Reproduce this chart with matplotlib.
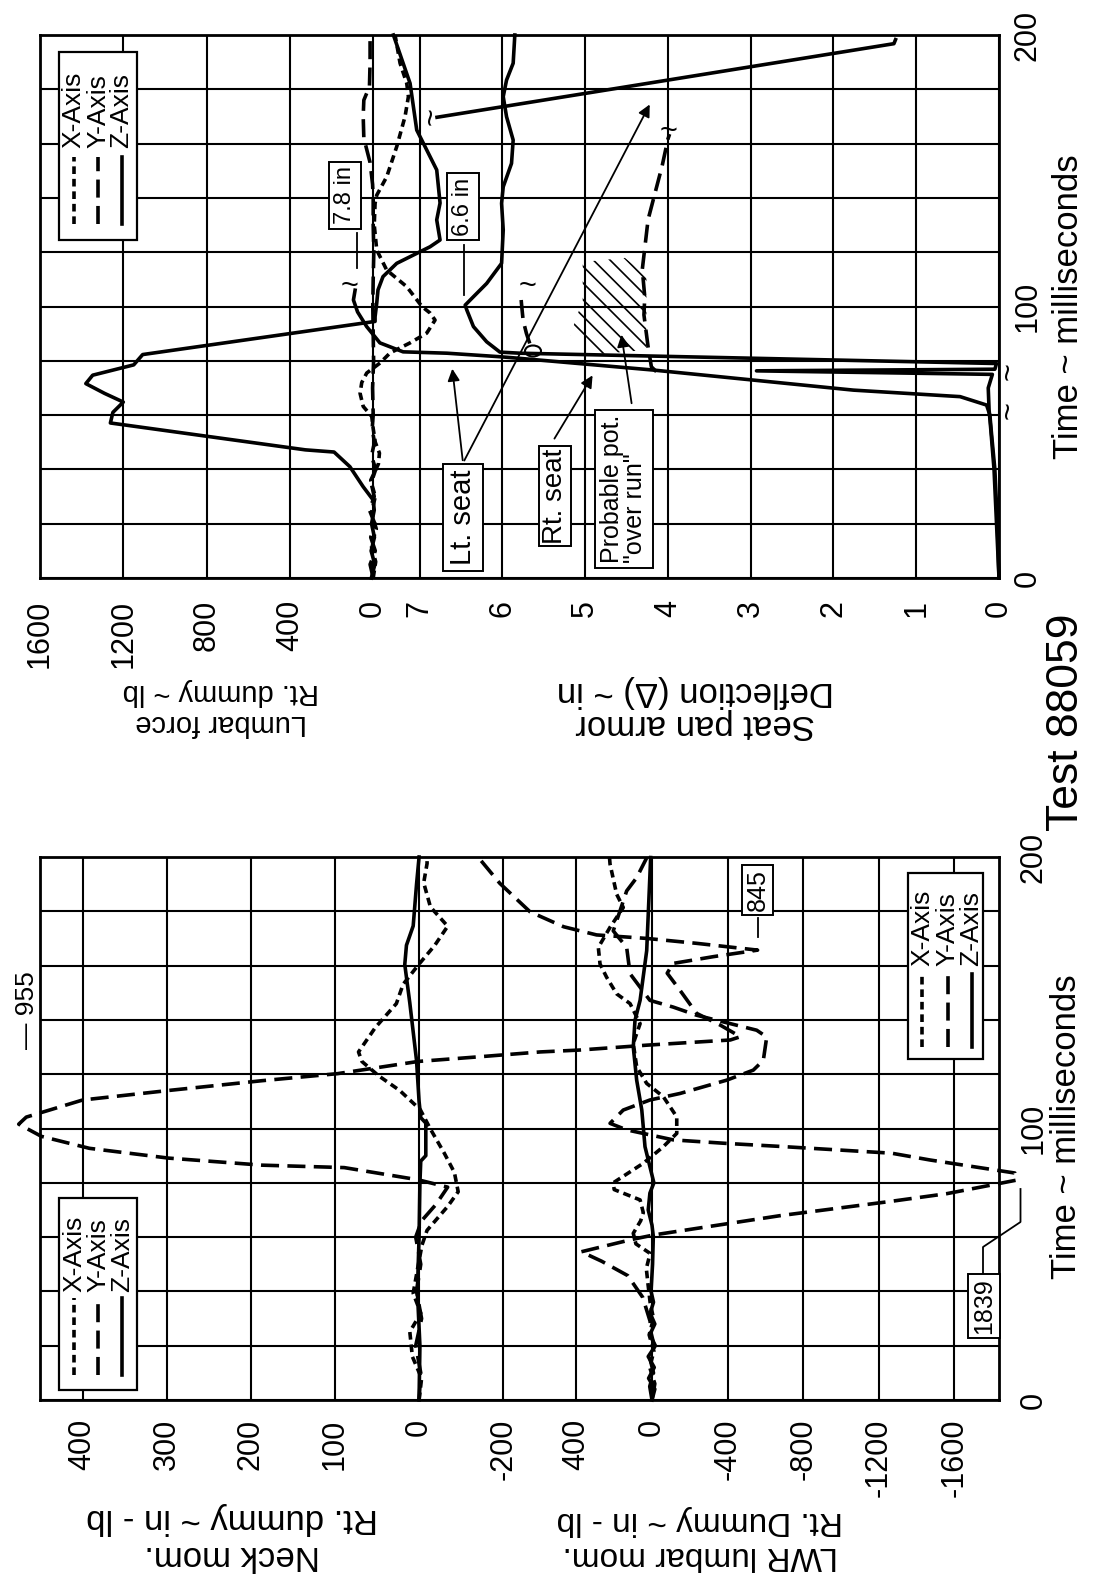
import numpy as np
import matplotlib
matplotlib.use('Agg')
import matplotlib.pyplot as plt
from matplotlib.patches import Rectangle, Polygon, Ellipse, FancyArrowPatch
from matplotlib.lines import Line2D

#==============================================================================
# data (time in ms)
#==============================================================================

# upper chart: lumbar force, Rt. dummy (lb)
lumbar_x_t = [0, 6, 12, 18, 24, 30, 36, 42, 46, 50, 55, 59.5, 63.2, 68, 72, 75.5,
              79.2, 82.9, 86.6, 90.2, 95, 97.6, 100, 107.3, 113.4, 120.8, 130, 138,
              141, 147.8, 158.9, 170, 177.3, 182.2, 189.6, 200]
lumbar_x = [0, -12, 10, -15, 8, -10, 12, -25, -30, -10, 0, 7, 48, 63, 55, 31,
            -33, -81, -177, -257, -297, -273, -234, -161, -65, -17, -5, -9,
            -17, -65, -113, -153, -169, -161, -129, -105]

lumbar_y_t = [0, 5, 10, 15, 20, 25, 30, 35, 40, 45, 50, 55, 60, 70, 80, 90, 100,
              110, 120, 130, 140, 145, 153, 162, 170, 176, 181, 190, 200]
lumbar_y = [0, 15, -10, 12, -8, 18, -5, 10, -12, 8, -6, 5, 0, 3, -2, 0, 2,
            0, -3, 0, 0, 3, 15, 45, 48, 45, 18, 15, 15]

lumbar_z_t = [0, 5, 10, 15, 20, 25, 28.7, 33.6, 41, 46.4, 47.2, 57.1, 61, 64.8,
              68, 71.6, 74.7, 78.5, 82.3, 94.5, 96.2, 101.3, 106.1, 111, 115.9,
              122, 124.5, 131.9, 138.1, 150.3, 155.2, 165, 182.2, 200]
lumbar_z = [9, -8, 10, -6, 8, -5, 0, 48, 112, 188, 326, 1262, 1250, 1200,
            1290, 1380, 1347, 1150, 1107, -9, -9, -17, -23, -47, -113,
            -273, -321, -305, -321, -305, -273, -209, -177, -97]

# upper chart: seat pan armor deflection (in)
lt_seat_t = [0, 20, 40, 53, 60, 63.7, 66.8, 69.2, 72.9, 76.6, 80.9, 81.5, 82.8,
             83.3, 86.6, 92.6, 98, 102.4, 106, np.nan, 169.7, 196.8, 198.3]
lt_seat = [0, 0.02, 0.05, 0.09, 0.11, 0.15, 0.47, 1.76, 2.97, 4.18, 5.79, 6.03, 6.67,
           7.2, 7.48, 7.64, 7.75, 7.8, 7.78, np.nan, 6.79, 1.27, 1.25]

rt_seat_t = [0, 20, 40, 55, 62, 70, 75.0, 76.3, 76.9, 79.0, 82.8, 83.2, 87, 92.6,
             98.7, 100.5, 103.6, 108.5, 115.9, 128.2, 138, 144.1, 152.7, 161.3,
             169.9, 177.3, 183.4, 189.6, 200]
rt_seat = [0, 0.03, 0.06, 0.1, 0.12, 0.13, 0.08, 2.93, 0.05, 0.03, 5.79, 6.03, 6.19, 6.35,
           6.43, 6.45, 6.35, 6.19, 6.01, 5.99, 6.01, 5.99, 5.89, 5.87,
           5.95, 5.99, 5.95, 5.87, 5.85]

pot_t = [76, 77.8, 85.2, 96.9, 103.6, 113.6, 132, 151.8, 161.7, 163.5, np.nan,
         86.4, 90.1, 95, 101.2, 105]
pot = [4.14, 4.20, 4.24, 4.29, 4.28, 4.31, 4.24, 4.07, 4.0, 3.98, np.nan,
       5.67, 5.71, 5.75, 5.77, 5.78]

# lower chart: neck moment, Rt. dummy (in-lb)
neck_x_t = [0, 8, 16, 25.1, 32, 39.3, 48, 57.1, 62.5, 71.3, 76.7, 83.8, 90.9, 99.8,
            106.9, 114, 119.4, 124.7, 128.2, 137.2, 146, 153.1, 160.2, 167.4,
            174.5, 181.6, 190.5, 197.6, 200]
neck_x = [0, -6, 8, 11, -4, 7, 2, -7, -19, -68, -93, -84, -60, -27,
          -3, 23, 48, 68, 72, 52, 27, 19, 1, -37,
          -68, -27, -11, -19, -19]

neck_y_t = [0, 10, 20, 30, 40, 50, 60, 66, 72, 78.4, 81.1, 85.6, 86.5, 89.1, 92.7,
            97.1, 101.6, 104.2, 110.5, 114, 117.6, 120.2, 124.7, 126.5, 128.2,
            128.9, 130.7, 132.6, 133.8, 138.1, 142.4, 151, 157.2, 160.8, 163.3,
            165.7, 168.2, 170, 171.3, 174.3, 179.8, 190.3, 198.9, 200]
neck_y = [0, -4, 4, -6, 3, -4, 4, -6, -40, -68, 1, 89, 187, 298, 392,
          449, 476, 467, 400, 298, 187, 97, 1, -150, -288,
          -382, -542, -740, -764, -716, -660, -620, -590, -604, -700,
          -805, -660, -542, -422, -344, -264, -192, -146, -140]

neck_z_t = [0, 20, 40, 60, 80, 88, 90, 102, 104, 110, 125, 146.2, 160.4, 167.5,
            174.6, 190, 200]
neck_z = [0, -2, 2, 0, -2, -4, -16, -16, -4, 0, 3, 11, 17, 15, 7, 3, 0]

# lower chart: LWR lumbar moment, Rt. dummy (in-lb)
lwr_x_t = [0, 6, 12, 18, 24, 30, 36, 42, 48.4, 54, 57.5, 61.4, 66, 69, 73.7, 77.5,
           80, 87.2, 93.3, 98.2, 104.3, 111.7, 116.6, 122.7, 131.3, 138.6, 146,
           149.6, 155.7, 160.6, 166.7, 174.1, 181.4, 186.3, 197.4, 200]
lwr_x = [0, -15, 12, -10, 15, -8, 10, 20, 30, 10, 85, 99, 60, 46, 63, 200,
         205, 46, -60, -131, -131, -60, 28, 81, 99, 63, 116,
         187, 240, 275, 284, 222, 152, 187, 222, 225]

lwr_y_t = [0, 5, 10, 15, 20, 25, 29, 37.8, 45.8, 51.1, 54.6, 59.1, 60.8, 67.9, 73.2,
           76, 81, 83.6, 88.4, 90.9, 93.4, 94.5, 95.8, 99.5, 101.9, 106.8, 110.5,
           112.9, 117.8, 121.5, 125.1, 133.7, 136.2, 141.7, 144.7, 147.2, 157,
           166.7, 172.8, 180, 187.5, 192.4, 199.7]
lwr_y = [0, 12, -8, 10, -12, 6, 10, 49, 128, 266, 374, 108, -10, -678, -1268,
         -1560, -1930, -1920, -1471, -1268, -678, -395, -113, 134, 222, 152, 11,
         -148, -395, -536, -589, -607, -554, -237, -113, 11, 116,
         134, 205, 170, 134, 81, 28]

lwr_z_t = [0, 4, 8, 12, 16, 20, 24, 28, 32, 36, 40, 50, 60.3, 64.4, 70, 76.2, 80,
           93.3, 106.8, 117.8, 130, 139.8, 147.2, 165.5, 199.8]
lwr_z = [0, -15, 18, -12, 20, -18, 12, -15, 10, -8, 5, -3, -7, 0, 20, 11, -10,
         37, 54, 81, 99, 90, 63, 28, 7]

force_ticks = [1600, 1200, 800, 400, 0]
defl_ticks = [7, 6, 5, 4, 3, 2, 1, 0]
neck_ticks = [400, 300, 200, 100, 0, -200]
lwr_ticks = [400, 0, -400, -800, -1200, -1600]
time_ticks = list(range(0, 201, 20))

#==============================================================================
# style
#==============================================================================

plt.rcParams['font.family'] = ['Liberation Sans', 'DejaVu Sans']
plt.rcParams['lines.scale_dashes'] = False
plt.rcParams['hatch.linewidth'] = 1.2

FIG_W, FIG_H = 1103, 1577
SHORT = (0, (5.5, 3.5))
LONG = (0, (13, 6))
LW = 2.6
GRID_LW = 1.5
TICK_FS = 22

fig = plt.figure(figsize=(FIG_W / 100, FIG_H / 100), dpi=100)

def fx(px):
  return px / FIG_W

def fy(py):
  return 1 - py / FIG_H

def box_axes(left, top, right, bottom, label):
  return fig.add_axes([fx(left), fy(bottom), (right - left) / FIG_W,
                       (bottom - top) / FIG_H], label=label)

def style_value_axis(ax, ticks, labels, pad, main):
  ax.set_xticks(ticks)
  ax.set_xticklabels(labels)
  ax.tick_params(axis='x', length=0, pad=pad, labelsize=TICK_FS, labelrotation=90)
  ax.grid(True, axis='x', color='black', lw=GRID_LW)
  if main:
    ax.set_yticks(time_ticks)
    ax.set_yticklabels([str(v) if v % 100 == 0 else '' for v in time_ticks])
    ax.yaxis.tick_right()
    ax.grid(True, axis='y', color='black', lw=GRID_LW)
    for s in ax.spines.values():
      s.set_linewidth(2.0)
  else:
    ax.set_yticks([])
    ax.patch.set_visible(False)
    for s in ax.spines.values():
      s.set_visible(False)
  ax.set_ylim(0, 200)

def time_labels(ax, pad):
  ax.tick_params(axis='y', length=0, pad=pad, labelsize=TICK_FS, labelrotation=90)
  for lbl in ax.get_yticklabels():
    lbl.set_va('center')

def flip_label(px, py, s, fs, ls=1.15):
  fig.text(fx(px), fy(py), s, rotation=180, ha='center', va='center',
           multialignment='center', fontsize=fs, linespacing=ls)

def legend_box(x0, y0, x1, y1, xs, text_bottom, s_top, s_bottom, fs=19):
  fig.add_artist(Rectangle((fx(x0), fy(y1)), (x1 - x0) / FIG_W, (y1 - y0) / FIG_H,
                           transform=fig.transFigure, fc='white', ec='black',
                           lw=1.6, zorder=3))
  for x, name, ls in zip(xs, ['X-Axis', 'Y-Axis', 'Z-Axis'], [SHORT, LONG, '-']):
    fig.add_artist(Line2D([fx(x), fx(x)], [fy(s_bottom), fy(s_top)],
                          transform=fig.transFigure, color='black', lw=LW, ls=ls,
                          zorder=4))
    fig.text(fx(x), fy(text_bottom), name, rotation=90, ha='center', va='bottom',
             fontsize=fs, zorder=4)

def boxed(px, py, s, fs, pad=0.2, **kw):
  fig.text(fx(px), fy(py), s, rotation=90, ha='center', va='center', fontsize=fs,
           zorder=5, bbox=dict(boxstyle='square,pad=%s' % pad, fc='white',
                               ec='black', lw=1.4), **kw)

def leader(points, lw=1.3):
  fig.add_artist(Line2D([fx(p[0]) for p in points], [fy(p[1]) for p in points],
                        transform=fig.transFigure, color='black', lw=lw, zorder=4))

def arrow(p0, p1):
  fig.add_artist(FancyArrowPatch((fx(p0[0]), fy(p0[1])), (fx(p1[0]), fy(p1[1])),
                                 transform=fig.transFigure, arrowstyle='-|>',
                                 mutation_scale=18, lw=1.3, color='black', zorder=4))

def squiggle(px, py, rot):
  fig.text(fx(px), fy(py), '~', rotation=rot, ha='center', va='center',
           fontsize=22, zorder=4)

#==============================================================================
# upper chart: lumbar force / seat pan deflection
#==============================================================================

ax_f = box_axes(40, 35, 999, 578, 'force')
ax_d = box_axes(40, 35, 999, 578, 'defl')
ax_f.set_xlim(1600, -3005)
ax_d.set_xlim(11.587, 0)
style_value_axis(ax_f, force_ticks, [str(v) for v in force_ticks], 15.8, True)
style_value_axis(ax_d, defl_ticks, [str(v) for v in defl_ticks], 15.8, False)
time_labels(ax_f, 10)

kw = dict(color='black', lw=LW, clip_on=False)
ax_f.plot(lumbar_x, lumbar_x_t, ls=SHORT, **kw)
ax_f.plot(lumbar_y, lumbar_y_t, ls=LONG, **kw)
ax_f.plot(lumbar_z, lumbar_z_t, ls='-', **kw)
ax_d.plot(lt_seat, lt_seat_t, ls='-', **kw)
ax_d.plot(rt_seat, rt_seat_t, ls='-', **kw)
ax_d.plot(pot, pot_t, ls=LONG, **kw)

# "probable pot over run" hatch
ax_d.add_patch(Polygon([(5.03, 116.4), (4.52, 117.9), (4.26, 111.6), (4.26, 84.0),
                        (4.82, 82.5), (5.18, 89.5), (5.03, 102.4)], closed=True,
                       fill=False, hatch='\\\\', lw=0, ec='black'))

legend_box(59, 52, 137, 240, (73.5, 98, 121.5), 148, 157, 224)

boxed(345, 195.5, '7.8 in', 17)
leader([(357, 233), (357, 268)])
boxed(463, 206.5, '6.6 in', 17)
leader([(464, 245), (464, 295)])
boxed(463, 517.5, 'Lt. seat', 21)
arrow((463, 463), (452, 366))
arrow((463, 463), (651, 102))
boxed(555, 496, 'Rt. seat', 20, pad=0.1)
arrow((553, 441), (594, 373))
boxed(623.5, 489, 'Probable pot.\n"over run"', 18, pad=0.2, multialignment='left',
      linespacing=1.0)
arrow((632, 406), (621, 332))

fig.add_artist(Ellipse((fx(533), fy(351)), 16 / FIG_W, 11 / FIG_H,
                       transform=fig.transFigure, fill=False, lw=1.5, zorder=4))
squiggle(350, 287, 0)
squiggle(433, 116, 90)
squiggle(528, 287, 0)
squiggle(669, 132, 0)
squiggle(1010, 371, 90)
squiggle(1010, 410, 90)

flip_label(221, 707.5, 'Lumbar force\nRt. dummy ~ lb', 21)
flip_label(695, 708, 'Seat pan armor\nDeflection (\u0394) ~ in', 25, ls=1.0)
fig.text(fx(1068), fy(307), 'Time ~ milliseconds', rotation=90, ha='center',
         va='center', fontsize=25)

#==============================================================================
# lower chart: neck / LWR lumbar moments
#==============================================================================

def neck_fwd(v):
  v = np.asarray(v, dtype=float)
  return np.where(v >= 0, v, v / 2)

def neck_inv(v):
  v = np.asarray(v, dtype=float)
  return np.where(v >= 0, v, v * 2)

ax_n = box_axes(40, 857, 999, 1400, 'neck')
ax_l = box_axes(40, 857, 999, 1400, 'lwr')
ax_n.set_xscale('function', functions=(neck_fwd, neck_inv))
ax_n.set_xlim(450.7, -1379)
ax_l.set_xlim(3238, -1836)
style_value_axis(ax_n, neck_ticks, [str(v) for v in neck_ticks], 13.5, True)
style_value_axis(ax_l, lwr_ticks, [str(v) for v in lwr_ticks], 13.5, False)
time_labels(ax_n, 14)

ax_n.plot(neck_x, neck_x_t, ls=SHORT, **kw)
ax_n.plot(neck_y, neck_y_t, ls=LONG, **kw)
ax_n.plot(neck_z, neck_z_t, ls='-', **kw)
ax_l.plot(lwr_x, lwr_x_t, ls=SHORT, **kw)
ax_l.plot(lwr_y, lwr_y_t, ls=LONG, **kw)
ax_l.plot(lwr_z, lwr_z_t, ls='-', **kw)

legend_box(58.5, 1198, 137, 1390, (74, 98, 122), 1292, 1298, 1375)
legend_box(907.7, 873, 983, 1059, (922, 947.5, 971.5), 966, 974, 1047)

fig.text(fx(27.5), fy(1010), '\u2014 955', rotation=90, ha='center', va='center',
         fontsize=19)
boxed(757.5, 890, '845', 18, pad=0.15)
leader([(758, 918), (758, 937)])
boxed(984, 1306, '1839', 18, pad=0.15)
leader([(983, 1274), (983, 1247), (1020.5, 1222), (1020.5, 1189)])

flip_label(232, 1537, 'Neck mom.\nRt. dummy ~ in - lb', 25)
flip_label(700, 1538, 'LWR lumbar mom.\nRt. Dummy ~ in - lb', 24)
fig.text(fx(1066), fy(1127), 'Time ~ milliseconds', rotation=90, ha='center',
         va='center', fontsize=25)

fig.text(fx(1067), fy(722.5), 'Test 88059', rotation=90, ha='center', va='center',
         fontsize=32)

fig.savefig('out.png', dpi=100)
